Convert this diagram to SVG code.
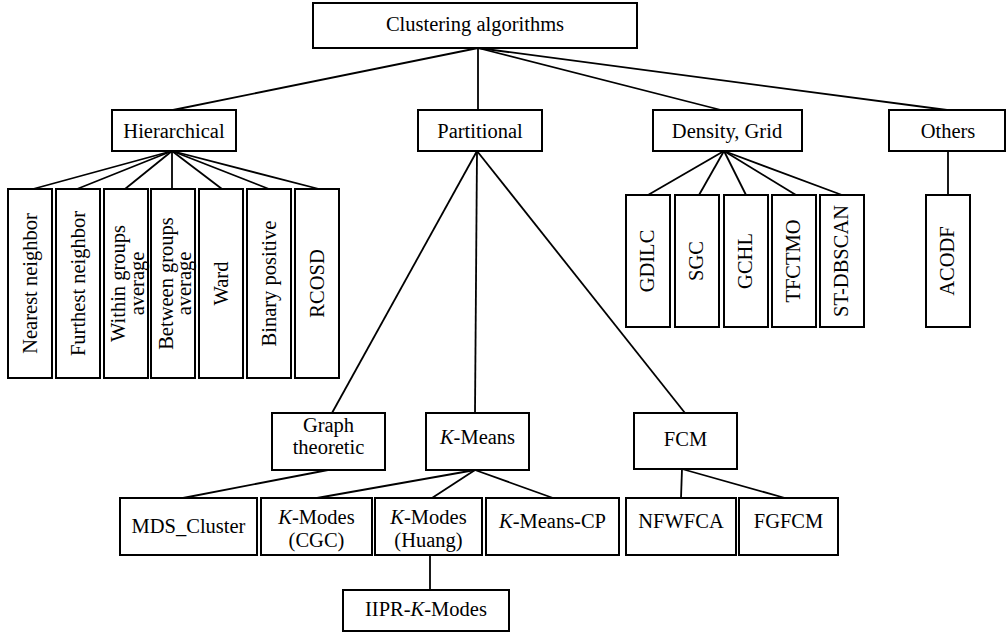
<svg xmlns="http://www.w3.org/2000/svg" width="1008" height="634" viewBox="0 0 1008 634">
<style>
.b{fill:#fff;stroke:#000;stroke-width:2}
.t{font-family:"Liberation Serif","Times New Roman",serif;font-size:20.5px;fill:#000;text-anchor:middle}
.c line{stroke:#000;stroke-width:1.8}
.i{font-style:italic}
</style>
<rect width="1008" height="634" fill="#fff"/>
<g class="c" id="connectors">
<line x1="478" y1="48" x2="173" y2="110"/>
<line x1="478" y1="48" x2="478" y2="110"/>
<line x1="478" y1="48" x2="721" y2="110"/>
<line x1="478" y1="48" x2="947" y2="110"/>
<line x1="172" y1="151" x2="33" y2="189"/>
<line x1="172" y1="151" x2="77" y2="189"/>
<line x1="172" y1="151" x2="125" y2="189"/>
<line x1="172" y1="151" x2="172" y2="189"/>
<line x1="172" y1="151" x2="222" y2="189"/>
<line x1="172" y1="151" x2="269" y2="189"/>
<line x1="172" y1="151" x2="319" y2="189"/>
<line x1="477" y1="151" x2="332" y2="413"/>
<line x1="477" y1="151" x2="475" y2="413"/>
<line x1="477" y1="151" x2="685" y2="413"/>
<line x1="724" y1="151" x2="648" y2="195"/>
<line x1="724" y1="151" x2="699" y2="195"/>
<line x1="724" y1="151" x2="746" y2="195"/>
<line x1="724" y1="151" x2="796" y2="195"/>
<line x1="724" y1="151" x2="842" y2="195"/>
<line x1="948" y1="151" x2="948" y2="195"/>
<line x1="328" y1="470" x2="183" y2="498"/>
<line x1="475" y1="470" x2="317" y2="498"/>
<line x1="475" y1="470" x2="432" y2="498"/>
<line x1="475" y1="470" x2="553" y2="498"/>
<line x1="430" y1="555" x2="430" y2="590"/>
<line x1="682" y1="469" x2="681" y2="498"/>
<line x1="682" y1="469" x2="785" y2="498"/>
</g>
<g id="root"><rect class="b" x="313" y="3" width="324" height="45"/><text class="t" x="475" y="31">Clustering algorithms</text></g>
<g id="hierarchical"><rect class="b" x="112" y="110" width="124" height="41"/><text class="t" x="174" y="137.5">Hierarchical</text></g>
<g id="partitional"><rect class="b" x="418" y="110" width="124" height="41"/><text class="t" x="480" y="137.5">Partitional</text></g>
<g id="density"><rect class="b" x="653" y="110" width="149" height="41"/><text class="t" x="727" y="137.5">Density, Grid</text></g>
<g id="others"><rect class="b" x="889" y="110" width="116" height="41"/><text class="t" x="948" y="137.5">Others</text></g>

<g id="nearest"><rect class="b" x="8" y="189" width="44" height="189"/><text class="t" transform="translate(36.5,283.5) rotate(-90)">Nearest neighbor</text></g>
<g id="furthest"><rect class="b" x="56" y="189" width="44" height="189"/><text class="t" transform="translate(84.5,283.5) rotate(-90)">Furthest neighbor</text></g>
<g id="within"><rect class="b" x="104" y="189" width="44" height="189"/><text class="t" transform="translate(125,283.5) rotate(-90)">Within groups</text><text class="t" transform="translate(144,283.5) rotate(-90)">average</text></g>
<g id="between"><rect class="b" x="151" y="189" width="44" height="189"/><text class="t" transform="translate(172.5,283.5) rotate(-90)">Between groups</text><text class="t" transform="translate(191,283.5) rotate(-90)">average</text></g>
<g id="ward"><rect class="b" x="199" y="189" width="44" height="189"/><text class="t" transform="translate(227.5,283.5) rotate(-90)">Ward</text></g>
<g id="binary"><rect class="b" x="247" y="189" width="44" height="189"/><text class="t" transform="translate(275.5,283.5) rotate(-90)">Binary positive</text></g>
<g id="rcosd"><rect class="b" x="295" y="189" width="44" height="189"/><text class="t" transform="translate(323.5,283.5) rotate(-90)">RCOSD</text></g>

<g id="gdilc"><rect class="b" x="626" y="195" width="44" height="132"/><text class="t" transform="translate(653.5,261) rotate(-90)">GDILC</text></g>
<g id="sgc"><rect class="b" x="675" y="195" width="44" height="132"/><text class="t" transform="translate(702.5,261) rotate(-90)">SGC</text></g>
<g id="gchl"><rect class="b" x="724" y="195" width="44" height="132"/><text class="t" transform="translate(751.5,261) rotate(-90)">GCHL</text></g>
<g id="tfctmo"><rect class="b" x="772" y="195" width="44" height="132"/><text class="t" transform="translate(799.5,261) rotate(-90)">TFCTMO</text></g>
<g id="stdbscan"><rect class="b" x="820" y="195" width="44" height="132"/><text class="t" transform="translate(847.5,261) rotate(-90)">ST-DBSCAN</text></g>
<g id="acodf"><rect class="b" x="926" y="195" width="44" height="132"/><text class="t" transform="translate(953.5,261) rotate(-90)">ACODF</text></g>

<g id="graph"><rect class="b" x="272" y="413" width="113" height="57"/><text class="t" x="328.5" y="432">Graph</text><text class="t" x="328.5" y="454">theoretic</text></g>
<g id="kmeans"><rect class="b" x="426" y="413" width="103" height="57"/><text class="t" x="477.5" y="444"><tspan class="i">K</tspan>-Means</text></g>
<g id="fcm"><rect class="b" x="634" y="413" width="103" height="56"/><text class="t" x="685.5" y="446">FCM</text></g>

<g id="mds"><rect class="b" x="120" y="498" width="137" height="57"/><text class="t" x="188.5" y="533">MDS_Cluster</text></g>
<g id="kmodescgc"><rect class="b" x="261" y="498" width="111" height="57"/><text class="t" x="316.5" y="524"><tspan class="i">K</tspan>-Modes</text><text class="t" x="316.5" y="547">(CGC)</text></g>
<g id="kmodeshuang"><rect class="b" x="375" y="498" width="107" height="57"/><text class="t" x="428.5" y="524"><tspan class="i">K</tspan>-Modes</text><text class="t" x="428.5" y="547">(Huang)</text></g>
<g id="kmeanscp"><rect class="b" x="486" y="498" width="133" height="57"/><text class="t" x="552.5" y="528"><tspan class="i">K</tspan>-Means-CP</text></g>
<g id="nfwfca"><rect class="b" x="626" y="498" width="110" height="57"/><text class="t" x="681" y="528">NFWFCA</text></g>
<g id="fgfcm"><rect class="b" x="739" y="498" width="99" height="57"/><text class="t" x="788.5" y="528">FGFCM</text></g>
<g id="iipr"><rect class="b" x="343" y="590" width="166" height="41"/><text class="t" x="426" y="616">IIPR-<tspan class="i">K</tspan>-Modes</text></g>
</svg>
